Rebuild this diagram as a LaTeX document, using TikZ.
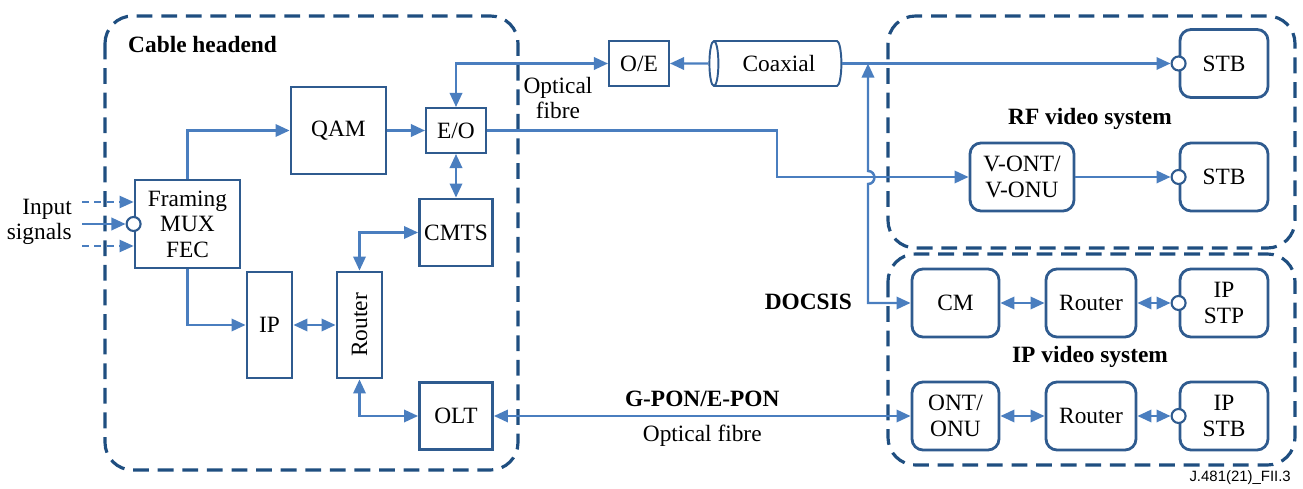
\documentclass[tikz,border=0pt]{standalone}
\usepackage{fontspec}
\setmainfont{Liberation Serif}
\newfontfamily\notefont{Liberation Sans}
\usetikzlibrary{positioning,arrows.meta,shapes.geometric,calc}
\definecolor{boxc}{HTML}{2F5B8F}
\definecolor{arrc}{HTML}{4A7EBF}
\definecolor{grpc}{HTML}{1F4E80}

\begin{document}
\begin{tikzpicture}[x=0.02cm, y=-0.02cm,
        font=\rmfamily\fontsize{13.3}{14.5}\selectfont,
        blk/.style={rectangle, draw=boxc, line width=1.6pt, align=center, inner sep=1pt},
        rbox/.style={rectangle, draw=boxc, line width=1.6pt, rounded corners=0.22cm, align=center,
                     minimum width=1.76cm, minimum height=1.36cm, inner sep=1pt},
        grp/.style={draw=grpc, line width=1.8pt, dash pattern=on 9pt off 5pt, rounded corners=0.55cm},
        port/.style={circle, draw=boxc, fill=white, line width=1.2pt, minimum size=0.28cm, inner sep=0pt},
        arr/.style={draw=arrc, line width=1.4pt, -{Triangle[length=8pt,width=7pt]}},
        dbl/.style={draw=arrc, line width=1.4pt, {Triangle[length=8pt,width=7pt]}-{Triangle[length=8pt,width=7pt]}},
        title/.style={font=\rmfamily\fontsize{13.3}{14.5}\selectfont\bfseries}]
    \useasboundingbox (0,0) rectangle (1303,489);

    % Dashed groups
    \draw[grp] (105,16) rectangle (518,470);
    \draw[grp] (888,16) rectangle (1295,248);
    \draw[grp] (888,254) rectangle (1295,465);
    \node[title, anchor=west] (headlbl) at (122,45) {Cable headend};
    \node[title] (rflbl) at (1090,119) {RF video system};
    \node[title] (iplbl) at (1090,357) {IP video system};

    % Cable headend
    \node[blk, minimum width=2.1cm, minimum height=1.76cm] (frm) at (187.5,224) {Framing\\MUX\\FEC};
    \node[port] (frmin) at (frm.west) {};
    \node[blk, minimum width=1.9cm, minimum height=1.74cm] (qam) at (338.5,130.5) {QAM};
    \node[blk, minimum width=1.2cm, minimum height=0.9cm, line width=1.1pt] (eo) at (456,130.5) {E/O};
    \node[blk, minimum width=1.46cm, minimum height=1.34cm] (cmts) at (456,232.5) {CMTS};
    \node[blk, minimum width=0.9cm, minimum height=2.12cm] (ip) at (269.5,325) {IP};
    \node[blk, minimum width=0.9cm, minimum height=2.12cm] (rtr) at (359.5,325) {\rotatebox{90}{Router}};
    \node[blk, minimum width=1.46cm, minimum height=1.34cm] (olt) at (456,416) {OLT};

    % Input signals
    \node[anchor=east, align=right] (insig) at (78,222) {Input\\signals};
    \coordinate (inA) at (82,202);
    \coordinate (inB) at (82,224);
    \coordinate (inC) at (82,246);
    \draw[arr, line width=0.9pt, dash pattern=on 4pt off 3pt] (inA) -- (frm.west |- inA);
    \draw[arr] (inB) -- (frmin.west);
    \draw[arr, line width=0.9pt, dash pattern=on 4pt off 3pt] (inC) -- (frm.west |- inC);

    % Outside plant
    \node[blk, minimum width=1.2cm, minimum height=0.9cm, line width=1.1pt] (oe) at (639,63.5) {O/E};
    \node[cylinder, shape border rotate=180, aspect=0.45, draw=boxc, line width=1.1pt,
          minimum width=0.9cm, minimum height=2.64cm, inner sep=1pt] (coax) at (779,63.5) {Coaxial};
    \node (optlbl) at (558,98) [align=center] {Optical\\fibre};
    \node[title, anchor=east] (docsis) at (858,302) {DOCSIS};

    % RF video system
    \node[rbox] (stbA) at (1224,63.5) {STB};
    \node[port] (stbAin) at (stbA.west) {};
    \node[rbox, minimum width=2.08cm] (vont) at (1022,177) {V-ONT/\\V-ONU};
    \node[rbox] (stbB) at (1224,177) {STB};
    \node[port] (stbBin) at (stbB.west) {};

    % IP video system
    \node[rbox, minimum width=1.74cm] (cm) at (955.5,303) {CM};
    \node[rbox, minimum width=1.8cm] (rtrA) at (1091,303) {Router};
    \node[rbox] (ipstp) at (1224,303) {IP\\STP};
    \node[port] (ipstpin) at (ipstp.west) {};
    \node[rbox, minimum width=1.74cm] (ont) at (955.5,416) {ONT/\\ONU};
    \node[rbox, minimum width=1.8cm] (rtrB) at (1091,416) {Router};
    \node[rbox] (ipstb) at (1224,416) {IP\\STB};
    \node[port] (ipstbin) at (ipstb.west) {};

    % Headend links
    \draw[arr] (frm.north) |- (qam.west);
    \draw[arr] (qam.east) -- (eo.west);
    \draw[dbl] (eo.south) -- (cmts.north);
    \draw[arr] (frm.south) |- (ip.west);
    \draw[dbl] (ip.east) -- (rtr.west);
    \draw[dbl] (rtr.north) |- (cmts.west);
    \draw[dbl] (rtr.south) |- (olt.west);

    % Optical / coaxial links
    \draw[dbl] (eo.north) |- (oe.west);
    \draw[arr] (coax.west) -- (oe.east);
    \draw[arr] (coax.east) -- (stbAin.west);
    \draw[arr] (eo.east) -- ++(290,0) |- (vont.west);
    \coordinate (jn) at (868,63.5);
    \draw[dbl] (cm.west) -- (868,303) -- (868,184)
        .. controls (876.5,184) and (876.5,171) .. (868,171) -- (jn);
    \draw[arr] (vont.east) -- (stbBin.west);
    \draw[dbl] (olt.east) -- node[title, above=1pt] {G-PON/E-PON} node[below=1pt] {Optical fibre} (ont.west);

    % IP video links
    \draw[dbl] (cm.east) -- (rtrA.west);
    \draw[dbl] (rtrA.east) -- (ipstpin.west);
    \draw[dbl] (ont.east) -- (rtrB.west);
    \draw[dbl] (rtrB.east) -- (ipstbin.west);

    \node[anchor=east, font=\notefont\fontsize{8.5}{10}\selectfont] (figid) at (1297,478) {J.481(21)\_FII.3};
\end{tikzpicture}
\end{document}
